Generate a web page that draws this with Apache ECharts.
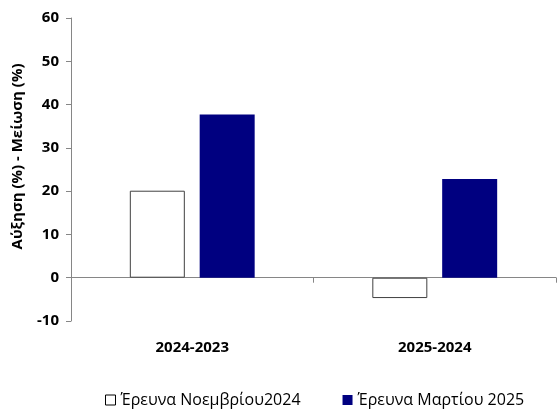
<!DOCTYPE html>
<html>
<head>
<meta charset="utf-8">
<script src="https://cdn.jsdelivr.net/npm/echarts@6/dist/echarts.min.js"></script>
<style>
  html, body { margin: 0; padding: 0; background: #fff; }
  #chart { width: 558px; height: 412px; }
</style>
</head>
<body>
<div id="chart"></div>
<script>
const categories = ["2024-2023", "2025-2024"];
const seriesNames = ["Έρευνα Νοεμβρίου2024", "Έρευνα Μαρτίου 2025"];
const novemberValues = [20.1, -4.7];
const marchValues = [37.7, 22.8];
const yTicks = [-10, 0, 10, 20, 30, 40, 50, 60];

const font = "'Open Sans', 'Noto Sans', sans-serif";
const myChart = echarts.init(document.getElementById("chart"));

const option = {
  animation: false,
  textStyle: { fontFamily: font },
  grid: { left: 71, right: 2, top: 18, bottom: 91 },
  legend: {
    left: 100,
    top: 387,
    icon: "rect",
    itemWidth: 10,
    itemHeight: 10,
    itemGap: 42,
    textStyle: { fontFamily: font, fontSize: 16, fontWeight: 500, color: "#000" },
    data: [
      { name: seriesNames[0], itemStyle: { color: "#fff", borderColor: "#000", borderWidth: 1 } },
      { name: seriesNames[1], itemStyle: { color: "#000080" } }
    ]
  },
  xAxis: {
    type: "category",
    data: categories,
    axisLine: { onZero: true, lineStyle: { color: "#868686", width: 1 } },
    axisTick: { show: true, length: 5, lineStyle: { color: "#868686" } },
    axisLabel: { margin: 19, fontFamily: font, fontSize: 15, fontWeight: "bold", color: "#000" },
    splitLine: { show: false }
  },
  yAxis: {
    type: "value",
    min: yTicks[0],
    max: yTicks[yTicks.length - 1],
    interval: 10,
    name: "Αύξηση (%) - Μείωση (%)",
    nameLocation: "middle",
    nameGap: 46,
    nameTextStyle: { fontFamily: font, fontSize: 15, fontWeight: "bold", color: "#000", padding: [0, 0, 0, 26] },
    axisLine: { show: true, lineStyle: { color: "#868686", width: 1 } },
    axisTick: { show: true, length: 5, lineStyle: { color: "#868686" } },
    axisLabel: { margin: 12, fontFamily: font, fontSize: 15, fontWeight: "bold", color: "#000" },
    splitLine: { show: false }
  },
  series: [
    {
      name: seriesNames[0],
      type: "bar",
      data: novemberValues,
      barWidth: 55,
      barGap: "27%",
      itemStyle: { color: "#fff", borderColor: "#404040", borderWidth: 1 }
    },
    {
      name: seriesNames[1],
      type: "bar",
      data: marchValues,
      barWidth: 55,
      itemStyle: { color: "#000080" }
    }
  ]
};

myChart.setOption(option);
</script>
</body>
</html>
